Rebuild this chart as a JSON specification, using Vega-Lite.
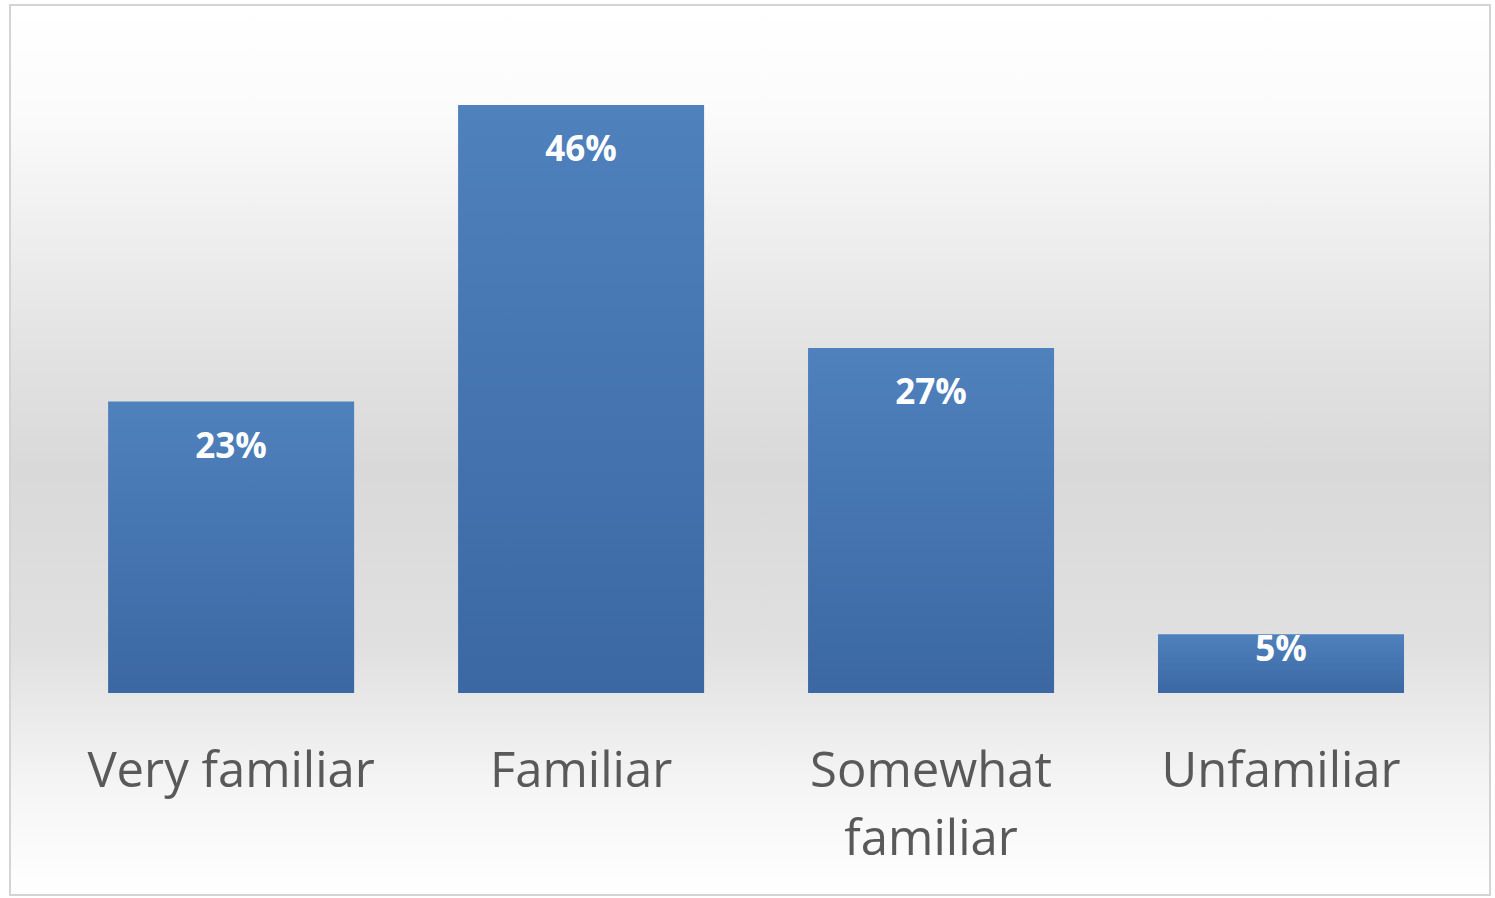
{
  "$schema": "https://vega.github.io/schema/vega-lite/v6.json",
  "autosize": {"type": "none"},
  "padding": {"left": 10, "top": 5, "right": 5, "bottom": 3},
  "width": 1480,
  "height": 890,
  "background": "#ffffff",
  "config": {
    "view": {
      "stroke": "#d4d4d4",
      "strokeWidth": 2,
      "fill": {
        "gradient": "linear", "x1": 0, "y1": 0, "x2": 0, "y2": 1,
        "stops": [
          {"offset": 0, "color": "#ffffff"},
          {"offset": 0.12, "color": "#fbfbfb"},
          {"offset": 0.38, "color": "#e3e3e3"},
          {"offset": 0.52, "color": "#d9d9d9"},
          {"offset": 0.72, "color": "#e0e0e0"},
          {"offset": 0.88, "color": "#f5f5f5"},
          {"offset": 1, "color": "#ffffff"}
        ]
      }
    }
  },
  "data": {
    "values": [
      {"category": "Very familiar", "pct": 22.8, "label": "23%"},
      {"category": "Familiar", "pct": 46, "label": "46%"},
      {"category": "Somewhat familiar", "pct": 27, "label": "27%"},
      {"category": "Unfamiliar", "pct": 4.6, "label": "5%"}
    ]
  },
  "encoding": {
    "x": {
      "field": "category", "type": "nominal", "sort": null,
      "scale": {"paddingInner": 0.297, "paddingOuter": 0.263, "align": 0.533},
      "axis": {
        "title": null, "domain": false, "ticks": false, "labelPadding": 0,
        "offset": -148, "labelAngle": 0,
        "labelFont": "Open Sans", "labelFontSize": 49, "labelColor": "#595959",
        "labelBaseline": "top", "labelLineHeight": 68, "labelLimit": 0,
        "labelExpr": "datum.value == 'Somewhat familiar' ? ['Somewhat', 'familiar'] : datum.value"
      }
    },
    "y": {
      "field": "pct", "type": "quantitative",
      "scale": {"domain": [-15.8, 53.83], "nice": false, "zero": false},
      "axis": null
    }
  },
  "layer": [
    {
      "mark": {
        "type": "bar",
        "color": {
          "gradient": "linear", "x1": 0, "y1": 0, "x2": 0, "y2": 1,
          "stops": [
            {"offset": 0, "color": "#4f81bd"},
            {"offset": 1, "color": "#3b68a3"}
          ]
        }
      },
      "encoding": {"y2": {"datum": 0}}
    },
    {
      "transform": [{"filter": "datum.pct >= 10"}],
      "mark": {
        "type": "text", "baseline": "middle", "dy": 45,
        "font": "Open Sans", "fontSize": 35, "fontWeight": "bold", "color": "#ffffff"
      },
      "encoding": {"text": {"field": "label"}}
    },
    {
      "transform": [{"filter": "datum.pct < 10"}],
      "mark": {
        "type": "text", "baseline": "middle", "dy": 16,
        "font": "Open Sans", "fontSize": 35, "fontWeight": "bold", "color": "#ffffff"
      },
      "encoding": {"text": {"field": "label"}}
    }
  ]
}
